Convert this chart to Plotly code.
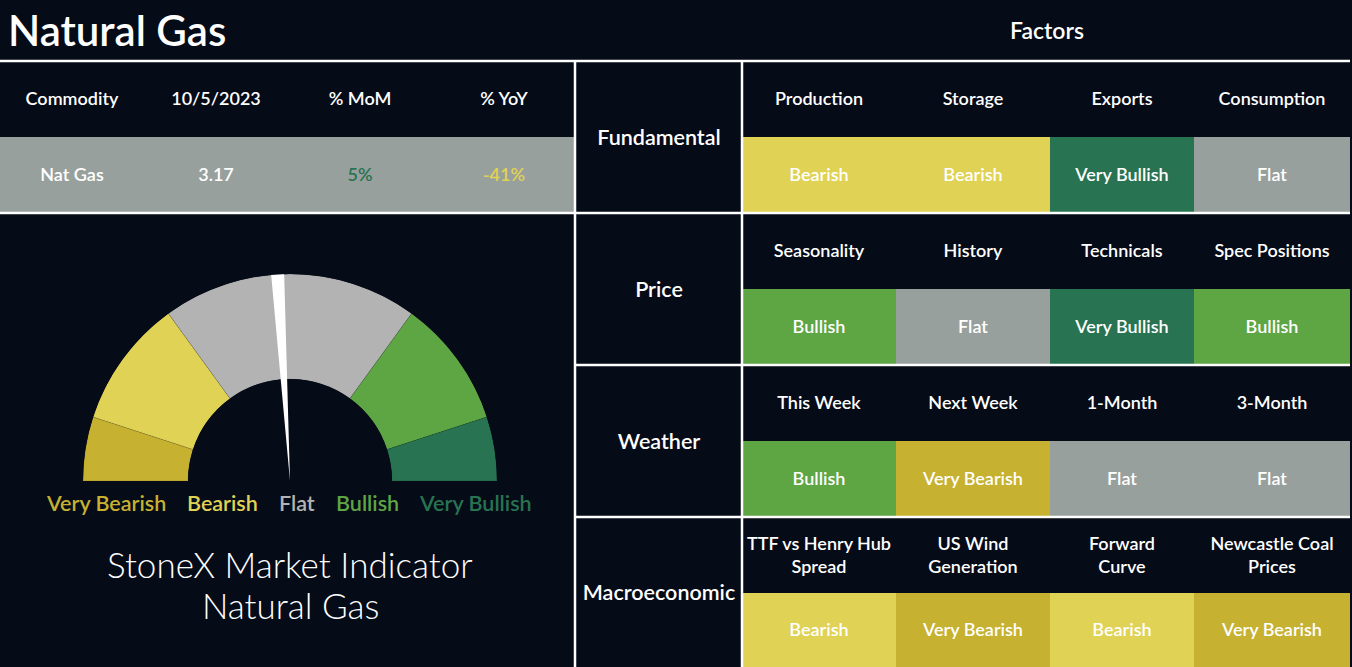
import plotly.graph_objects as go

# ---- dados ----
titulo = "Natural Gas"
subtitulo = "StoneX Market Indicator"
tabela_cabecalho = ["Commodity", "10/5/2023", "% MoM", "% YoY"]
tabela_linha = ["Nat Gas", "3.17", "5%", "-41%"]

grupos = ["Fundamental", "Price", "Weather", "Macroeconomic"]
fatores = [
  ["Production", "Storage", "Exports", "Consumption"],
  ["Seasonality", "History", "Technicals", "Spec Positions"],
  ["This Week", "Next Week", "1-Month", "3-Month"],
  ["TTF vs Henry Hub<br>Spread", "US Wind<br>Generation", "Forward<br>Curve", "Newcastle Coal<br>Prices"],
]
sinais = [
  ["Bearish", "Bearish", "Very Bullish", "Flat"],
  ["Bullish", "Flat", "Very Bullish", "Bullish"],
  ["Bullish", "Very Bearish", "Flat", "Flat"],
  ["Bearish", "Very Bearish", "Bearish", "Very Bearish"],
]

niveis = ["Very Bearish", "Bearish", "Flat", "Bullish", "Very Bullish"]
gauge_limites = [0, 10, 30, 70, 90, 100]   # escala 0-100
ponteiro_valor = 48.1
ponteiro_largura = 2

# ---- estilo ----
FUNDO = "#050b17"
FONTE = "Lato"
cores_nivel = {"Very Bearish": "#c6b130", "Bearish": "#e0d254", "Flat": "#98a09d",
               "Bullish": "#5ea544", "Very Bullish": "#287352"}
cores_gauge = ["#c6b130", "#e0d254", "#b3b3b3", "#5ea544", "#287352"]
cores_texto_gauge = ["#c6b130", "#e0d254", "#b3b3b3", "#5ea544", "#287352"]
codigo = {n: i + 1 for i, n in enumerate(niveis)}
escala = [[0, FUNDO]] + [[(i + 1) / 5, cores_nivel[n]] for i, n in enumerate(niveis)]

fig = go.Figure()

# tabela da esquerda
def cor_pct(txt):
  return cores_nivel["Very Bullish"] if not txt.startswith("-") else cores_nivel["Bearish"]

linha_txt = tabela_linha[:2] + ["<span style='color:%s'>%s</span>" % (cor_pct(t), t) for t in tabela_linha[2:]]
fig.add_trace(go.Heatmap(
  x=[0, 144, 288, 432, 575], y=[61, 137, 213],
  z=[[0] * 4, [codigo["Flat"]] * 4],
  text=[tabela_cabecalho, linha_txt], texttemplate="%{text}",
  textfont=dict(family=FONTE, size=18, color="white", weight=600),
  colorscale=escala, zmin=0, zmax=5, showscale=False, hoverinfo="skip"))

# coluna dos grupos
fig.add_trace(go.Heatmap(
  x=[575, 742], y=[61, 213, 365, 517, 667],
  z=[[0] for g in grupos], text=[[g] for g in grupos], texttemplate="%{text}",
  textfont=dict(family=FONTE, size=21.5, color="white", weight=600),
  colorscale=escala, zmin=0, zmax=5, showscale=False, hoverinfo="skip"))

# grade de fatores
z_fat, t_fat = [], []
for f, s in zip(fatores, sinais):
  z_fat.append([0] * 4)
  t_fat.append(f)
  z_fat.append([codigo[v] for v in s])
  t_fat.append(s)

fig.add_trace(go.Heatmap(
  x=[742, 896, 1050, 1194, 1350], y=[61, 137, 213, 289, 365, 441, 517, 593, 667],
  z=z_fat, text=t_fat, texttemplate="%{text}",
  textfont=dict(family=FONTE, size=18, color="white", weight=600),
  colorscale=escala, zmin=0, zmax=5, showscale=False, hoverinfo="skip"))

# gauge
centros = [(a + b) / 2 * 1.8 for a, b in zip(gauge_limites[:-1], gauge_limites[1:])]
larguras = [(b - a) * 1.8 for a, b in zip(gauge_limites[:-1], gauge_limites[1:])]
fig.add_trace(go.Barpolar(
  theta=centros, width=larguras, r=[1] * 5, marker=dict(color=cores_gauge, line=dict(color="rgba(0,0,0,0.2)", width=0.5)),
  subplot="polar", showlegend=False, hoverinfo="skip"))
fig.add_trace(go.Barpolar(
  theta=[ponteiro_valor * 1.8], width=[ponteiro_largura * 1.8], r=[1],
  marker=dict(color="white", line=dict(width=0)),
  subplot="polar2", showlegend=False, hoverinfo="skip"))

dominio = dict(x=[83 / 1352, 497 / 1352], y=[1 - 481 / 667, 1 - 274 / 667])
polar_base = dict(
  domain=dominio, sector=[0, 180], bgcolor="rgba(0,0,0,0)",
  radialaxis=dict(visible=False, range=[0, 1]),
  angularaxis=dict(visible=False, direction="clockwise", rotation=180, thetaunit="degrees"))
fig.update_layout(polar=dict(polar_base, hole=102 / 207), polar2=dict(polar_base, hole=0))

# rótulos do gauge
pos_rotulos = [106, 222, 297, 367, 475]
for n, xx, c in zip(niveis, pos_rotulos, cores_texto_gauge):
  fig.add_annotation(x=xx, y=503, text=n, showarrow=False, xanchor="center", yanchor="middle",
                     font=dict(family=FONTE, size=21.5, color=c, weight=600))

# textos
for txt, yy in [(subtitulo, 564), (titulo, 605)]:
  fig.add_annotation(x=290, y=yy, text=txt, showarrow=False, xanchor="center", yanchor="middle",
                     font=dict(family=FONTE, size=35, color="white", weight=300))
fig.add_annotation(x=6, y=30, text=titulo, showarrow=False, xanchor="left", yanchor="middle",
                   font=dict(family=FONTE, size=42, color="white", weight=600))
fig.add_annotation(x=1047, y=30, text="Factors", showarrow=False, xanchor="center", yanchor="middle",
                   font=dict(family=FONTE, size=23, color="white", weight=600))

# linhas brancas
linhas = [(0, 61, 1350, 61), (0, 213, 1350, 213), (575, 365, 1350, 365), (575, 517, 1350, 517),
          (575, 61, 575, 667), (742, 61, 742, 667)]
for x0, y0, x1, y1 in linhas:
  fig.add_shape(type="line", x0=x0, y0=y0, x1=x1, y1=y1, xref="x", yref="y",
                line=dict(color="white", width=2.5))

fig.update_layout(
  width=1352, height=667, margin=dict(l=0, r=0, t=0, b=0),
  paper_bgcolor=FUNDO, plot_bgcolor=FUNDO, showlegend=False,
  xaxis=dict(range=[0, 1352], visible=False, fixedrange=True),
  yaxis=dict(range=[667, 0], visible=False, fixedrange=True),
)

fig.write_html("out.html", config={"displayModeBar": False},
               post_script="document.body.style.margin='0';document.body.style.background='%s';" % FUNDO)
